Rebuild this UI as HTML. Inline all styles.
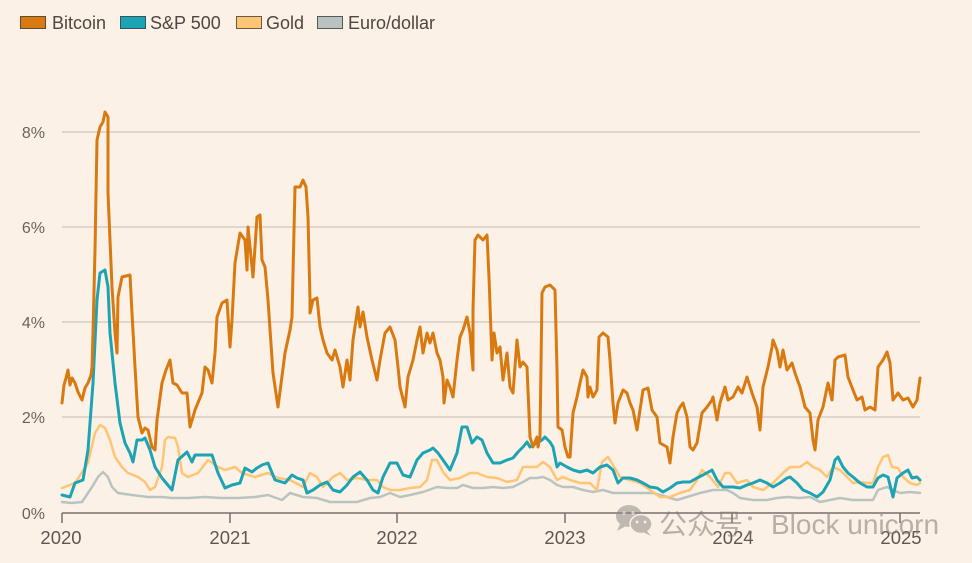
<!DOCTYPE html>
<html><head><meta charset="utf-8">
<style>
html,body{margin:0;padding:0;background:#fcf1e7;}
svg{display:block;}
</style></head>
<body>
<svg width="972" height="563" viewBox="0 0 972 563" xmlns="http://www.w3.org/2000/svg">
<rect width="972" height="563" fill="#fcf1e7"/>
<!-- legend -->
<g font-family="Liberation Sans, sans-serif" font-size="18" fill="#4e4640">
<rect x="20.5" y="16.5" width="25" height="12" fill="#d97a10" stroke="#5e4a36" stroke-width="1"/>
<text x="52" y="29">Bitcoin</text>
<rect x="120.5" y="16.5" width="25" height="12" fill="#1ca3b4" stroke="#3a5358" stroke-width="1"/>
<text x="150" y="29">S&amp;P 500</text>
<rect x="236.5" y="16.5" width="25" height="12" fill="#fec574" stroke="#6a5a44" stroke-width="1"/>
<text x="266" y="29">Gold</text>
<rect x="317.5" y="16.5" width="25" height="12" fill="#b8c3c0" stroke="#555a58" stroke-width="1"/>
<text x="348" y="29">Euro/dollar</text>
</g>
<!-- grid -->
<g stroke="#d6cdc5" stroke-width="1.5">
<line x1="62" y1="132" x2="920" y2="132"/>
<line x1="62" y1="227" x2="920" y2="227"/>
<line x1="62" y1="322" x2="920" y2="322"/>
<line x1="62" y1="417" x2="920" y2="417"/>
</g>
<g font-family="Liberation Sans, sans-serif" font-size="16" fill="#6a635d" text-anchor="end">
<text x="45" y="138">8%</text>
<text x="45" y="233">6%</text>
<text x="45" y="328">4%</text>
<text x="45" y="423">2%</text>
<text x="45" y="519">0%</text>
</g>
<!-- series -->
<g fill="none" stroke-linejoin="round" stroke-linecap="round">
<polyline stroke="#b9c4c1" stroke-width="2.5" points="62,502 72,503 82,502 92,487 98,477 103,472 108,477 112,487 118,493 132,495 148,497 162,497 172,498 188,498 205,497 222,498 238,498 255,497 268,495 282,500 290,493 303,497 317,498 330,502 343,502 357,502 370,498 380,497 390,493 400,497 410,495 423,492 437,487 447,488 457,488 463,485 473,488 483,488 493,487 503,488 513,487 523,482 530,478 537,478 543,477 550,480 557,485 563,487 573,487 583,490 593,492 603,490 613,493 623,493 633,493 643,493 653,493 667,497 677,500 687,497 700,493 713,490 727,490 733,493 740,498 753,500 767,500 777,498 787,497 800,498 810,497 820,502 830,500 840,498 853,500 863,500 873,500 878,490 887,487 893,490 900,493 910,492 920,493"/>
<polyline stroke="#fec574" stroke-width="2.5" points="62,488 75,483 88,463 95,433 100,425 105,428 110,440 115,457 122,467 128,473 138,477 145,482 150,490 155,487 162,467 165,440 168,437 175,438 178,447 182,473 188,477 198,473 208,460 218,467 225,470 235,467 242,473 255,477 268,473 278,478 290,480 303,487 310,473 317,477 323,487 333,477 340,473 347,480 357,478 367,480 377,480 383,487 390,490 400,490 410,488 420,487 427,480 432,460 437,460 443,472 450,480 460,478 470,473 477,473 487,477 497,478 507,482 517,480 523,467 530,467 537,467 543,462 550,467 557,480 563,477 570,480 580,483 590,483 597,490 602,462 608,457 613,465 620,477 630,480 640,483 650,490 660,497 670,497 680,493 690,490 697,480 702,470 710,477 718,487 725,473 730,473 737,483 747,480 753,487 763,490 773,483 783,473 790,467 800,467 807,462 813,467 820,470 827,477 833,467 840,470 847,477 853,483 860,482 867,483 873,483 878,467 883,457 888,455 892,467 898,468 903,477 910,483 917,485 920,483"/>
<polyline stroke="#1ca3b4" stroke-width="3" points="62,495 70,497 75,483 83,480 88,450 93,383 97,300 100,273 105,270 108,287 110,333 115,383 120,423 125,443 130,453 133,462 137,440 142,440 145,438 150,450 155,467 162,478 172,490 178,460 187,452 192,462 195,455 202,455 212,455 218,473 225,488 232,485 240,483 245,468 252,472 257,468 262,465 268,463 275,480 285,483 292,475 297,478 303,480 307,493 313,490 320,485 327,482 333,490 340,492 347,485 353,477 360,472 367,480 373,490 378,493 383,477 390,463 397,463 403,475 410,477 417,460 423,453 430,450 433,448 438,453 443,460 450,470 457,453 462,427 467,427 472,443 477,437 482,440 487,453 493,463 500,463 507,460 513,458 518,452 523,447 527,442 530,447 537,443 542,440 545,437 550,442 553,447 557,467 560,463 567,467 573,470 580,472 587,470 593,473 600,467 607,465 613,470 618,483 623,478 630,478 637,480 643,483 650,487 657,488 663,492 670,488 677,483 683,482 690,482 697,478 703,475 712,470 717,480 723,487 733,487 740,488 747,485 753,483 760,480 767,483 773,487 780,483 787,478 790,477 797,483 803,490 810,493 817,497 823,492 830,480 835,460 838,457 843,467 848,473 853,477 860,483 867,487 873,487 878,478 883,475 888,477 892,493 893,497 897,478 903,473 908,470 912,478 917,477 920,480"/>
<polyline stroke="#d97a10" stroke-width="3" points="62,403 64,385 66,378 68,370 70,385 72,378 75,383 78,392 82,400 85,388 88,383 91,375 92,367 93,333 95,250 97,140 100,127 103,122 105,112 108,117 108,193 110,240 112,287 115,333 117,353 118,297 122,277 126,276 130,275 132,313 135,367 138,417 142,433 145,428 148,430 152,447 155,450 157,420 162,383 166,370 170,360 173,383 177,385 182,393 187,393 190,427 195,410 202,393 205,367 208,370 212,383 215,353 217,317 222,303 227,300 230,347 232,320 235,263 240,233 245,240 247,270 248,227 253,277 257,217 260,215 262,260 265,267 268,300 273,373 278,407 285,353 290,330 292,317 295,187 300,187 303,180 306,187 308,217 310,300 310,313 313,300 317,298 320,327 323,340 327,353 332,360 335,350 340,367 343,387 347,360 350,380 353,340 358,307 360,327 363,312 367,337 372,360 377,380 380,360 385,333 390,327 395,340 398,367 400,387 405,407 408,377 413,360 417,340 420,327 423,353 427,333 430,343 433,333 437,353 440,360 443,377 444,403 447,380 450,387 453,397 457,360 460,337 463,330 467,317 470,333 473,370 473,310 475,240 478,235 483,240 487,235 489,277 492,360 494,333 497,353 500,347 503,380 507,353 510,387 513,393 517,340 520,367 523,362 527,367 530,437 533,447 537,437 538,447 540,437 542,293 545,287 550,285 555,290 557,370 558,427 562,430 565,447 568,457 570,457 573,413 577,397 580,383 583,370 587,377 588,397 590,387 593,397 597,390 599,337 603,333 608,337 610,360 613,403 615,423 618,403 623,390 627,393 630,403 633,410 637,430 640,410 643,390 648,388 652,410 657,417 660,443 667,447 670,463 673,437 677,413 680,407 683,403 687,417 690,447 693,450 697,443 702,413 707,407 712,400 713,397 717,420 720,403 725,387 728,400 733,397 738,387 742,393 747,377 752,393 757,407 760,430 763,387 768,367 772,347 773,340 777,350 780,367 783,350 787,370 792,363 795,373 800,387 805,407 810,413 813,440 815,450 818,420 823,407 828,383 832,400 835,360 838,357 845,355 848,377 853,390 857,400 862,397 865,410 870,407 875,410 878,367 883,360 887,352 890,363 893,400 898,393 903,400 908,398 913,407 917,400 920,378"/>
</g>
<!-- axis -->
<g stroke="#77716c" stroke-width="1.5">
<line x1="62" y1="513" x2="920" y2="513"/>
<line x1="62" y1="513" x2="62" y2="523"/>
<line x1="230" y1="513" x2="230" y2="523"/>
<line x1="397" y1="513" x2="397" y2="523"/>
<line x1="565" y1="513" x2="565" y2="523"/>
<line x1="732" y1="513" x2="732" y2="523"/>
<line x1="900" y1="513" x2="900" y2="523"/>
</g>
<g font-family="Liberation Sans, sans-serif" font-size="18.5" fill="#5e5752" text-anchor="middle">
<text x="61" y="544">2020</text>
<text x="230" y="544">2021</text>
<text x="397" y="544">2022</text>
<text x="565" y="544">2023</text>
<text x="733" y="544">2024</text>
<text x="901" y="544">2025</text>
</g>
<!-- watermark -->
<g opacity="0.55">
<ellipse cx="629" cy="516" rx="13" ry="11" fill="#8f8a86"/>
<path d="M620,524 L617,531 L626,526 Z" fill="#8f8a86"/>
<ellipse cx="641" cy="524" rx="11" ry="9.5" fill="#8f8a86" stroke="#fcf1e7" stroke-width="1.5"/>
<path d="M647,531 L651,536 L643,532 Z" fill="#8f8a86"/>
<circle cx="624" cy="513" r="1.6" fill="#fcf1e7"/>
<circle cx="633" cy="513" r="1.6" fill="#fcf1e7"/>
<circle cx="637" cy="522" r="1.4" fill="#fcf1e7"/>
<circle cx="645" cy="522" r="1.4" fill="#fcf1e7"/>
<text x="659" y="534" font-family="Liberation Sans, 'Noto Sans CJK SC', sans-serif" font-size="28" fill="#7f7873">公众号：Block unicorn</text>
</g>
</svg>
</body></html>
